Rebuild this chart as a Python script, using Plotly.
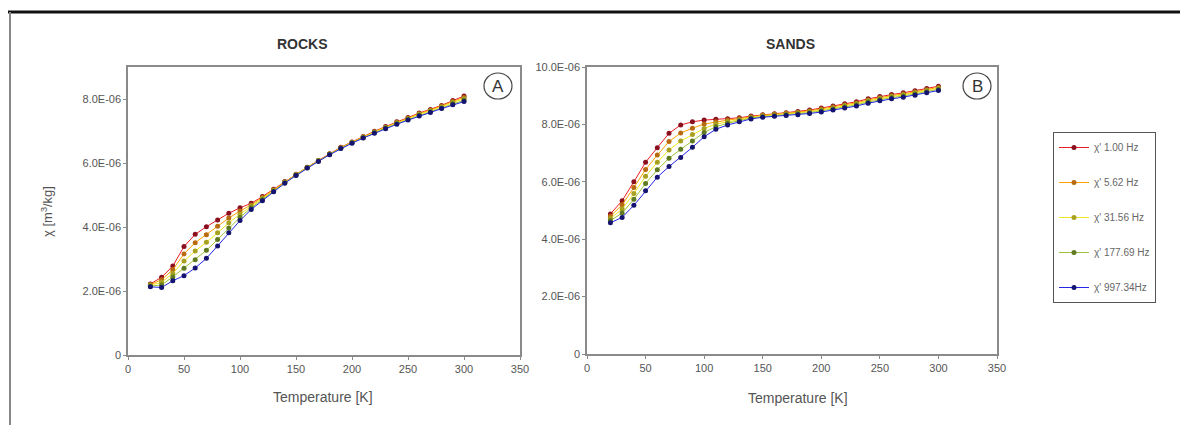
import plotly.graph_objects as go

W, H = 1180, 425

temperature = [20, 30, 40, 50, 60, 70, 80, 90, 100, 110, 120, 130, 140, 150, 160,
               170, 180, 190, 200, 210, 220, 230, 240, 250, 260, 270, 280, 290, 300]

series_names = ["χ' 1.00 Hz", "χ' 5.62 Hz", "χ' 31.56 Hz", "χ' 177.69 Hz", "χ' 997.34Hz"]

# values in units of 1E-06 m^3/kg
rocks_1hz = [2.22, 2.43, 2.78, 3.39, 3.77, 4.01, 4.22, 4.43, 4.60, 4.74, 4.95, 5.18, 5.42, 5.65, 5.87,
             6.08, 6.29, 6.49, 6.66, 6.83, 6.99, 7.14, 7.29, 7.42, 7.56, 7.67, 7.80, 7.95, 8.09]
rocks_5hz = [2.20, 2.35, 2.67, 3.16, 3.51, 3.76, 4.02, 4.28, 4.50, 4.69, 4.92, 5.16, 5.41, 5.64, 5.86,
             6.07, 6.28, 6.48, 6.65, 6.82, 6.98, 7.12, 7.27, 7.40, 7.54, 7.65, 7.78, 7.92, 8.05]
rocks_31hz = [2.18, 2.27, 2.55, 2.94, 3.25, 3.52, 3.82, 4.13, 4.40, 4.65, 4.89, 5.14, 5.40, 5.63, 5.86,
              6.07, 6.28, 6.47, 6.64, 6.81, 6.96, 7.11, 7.25, 7.38, 7.52, 7.63, 7.75, 7.89, 8.01]
rocks_177hz = [2.15, 2.19, 2.44, 2.71, 2.98, 3.27, 3.61, 3.97, 4.30, 4.60, 4.85, 5.12, 5.38, 5.62, 5.85,
               6.06, 6.27, 6.46, 6.63, 6.79, 6.95, 7.09, 7.23, 7.36, 7.49, 7.60, 7.72, 7.85, 7.96]
rocks_997hz = [2.13, 2.11, 2.32, 2.48, 2.72, 3.02, 3.41, 3.82, 4.20, 4.55, 4.82, 5.10, 5.37, 5.61, 5.84,
               6.05, 6.26, 6.45, 6.62, 6.78, 6.93, 7.07, 7.21, 7.34, 7.47, 7.58, 7.70, 7.82, 7.92]

sands_1hz = [4.88, 5.34, 6.00, 6.68, 7.19, 7.69, 7.98, 8.09, 8.15, 8.18, 8.20, 8.23, 8.29, 8.34, 8.37,
             8.41, 8.45, 8.50, 8.57, 8.64, 8.72, 8.79, 8.89, 8.97, 9.04, 9.10, 9.17, 9.25, 9.33]
sands_5hz = [4.80, 5.20, 5.80, 6.43, 6.93, 7.40, 7.70, 7.87, 8.01, 8.09, 8.15, 8.20, 8.27, 8.32, 8.35,
             8.39, 8.42, 8.47, 8.54, 8.61, 8.68, 8.75, 8.85, 8.93, 9.00, 9.06, 9.13, 9.21, 9.29]
sands_31hz = [4.72, 5.05, 5.59, 6.19, 6.68, 7.11, 7.42, 7.65, 7.86, 8.01, 8.09, 8.16, 8.24, 8.30, 8.33,
              8.36, 8.40, 8.44, 8.50, 8.57, 8.65, 8.72, 8.82, 8.90, 8.97, 9.03, 9.10, 9.18, 9.26]
sands_177hz = [4.65, 4.91, 5.39, 5.94, 6.42, 6.82, 7.13, 7.42, 7.72, 7.92, 8.04, 8.13, 8.22, 8.27, 8.30,
               8.34, 8.37, 8.41, 8.47, 8.54, 8.61, 8.68, 8.78, 8.86, 8.93, 8.99, 9.06, 9.14, 9.22]
sands_997hz = [4.57, 4.76, 5.18, 5.69, 6.16, 6.53, 6.85, 7.20, 7.57, 7.83, 7.98, 8.09, 8.19, 8.25, 8.28,
               8.31, 8.34, 8.38, 8.43, 8.50, 8.57, 8.64, 8.74, 8.82, 8.89, 8.95, 9.02, 9.10, 9.18]

UNIT = 1e-6

x_ticks = [0, 50, 100, 150, 200, 250, 300, 350]
rocks_yticks = [0, 2e-6, 4e-6, 6e-6, 8e-6]
rocks_yticktext = ["0", "2.0E-06", "4.0E-06", "6.0E-06", "8.0E-06"]
sands_yticks = [0, 2e-6, 4e-6, 6e-6, 8e-6, 10e-6]
sands_yticktext = ["0", "2.0E-06", "4.0E-06", "6.0E-06", "8.0E-06", "10.0E-06"]

line_colors = ["#ec1c24", "#ffa200", "#f0e81e", "#9cc23c", "#2626e6"]
marker_colors = ["#8a1020", "#b86a10", "#a8a020", "#5f7a20", "#141470"]

rocks = [rocks_1hz, rocks_5hz, rocks_31hz, rocks_177hz, rocks_997hz]
sands = [sands_1hz, sands_5hz, sands_31hz, sands_177hz, sands_997hz]

fig = go.Figure()

def px_x(p):
    return p / W

def px_y(p):
    return 1 - p / H

for i in range(5):
    fig.add_trace(go.Scatter(
        x=temperature, y=[v * UNIT for v in rocks[i]], name=series_names[i],
        mode="lines+markers", legendgroup=str(i), showlegend=True,
        line=dict(color=line_colors[i], width=1),
        marker=dict(color=marker_colors[i], size=5, symbol="circle"),
        xaxis="x", yaxis="y"))
for i in range(5):
    fig.add_trace(go.Scatter(
        x=temperature, y=[v * UNIT for v in sands[i]], name=series_names[i],
        mode="lines+markers", legendgroup=str(i), showlegend=False,
        line=dict(color=line_colors[i], width=1),
        marker=dict(color=marker_colors[i], size=5, symbol="circle"),
        xaxis="x2", yaxis="y2"))

axis_common = dict(showline=True, linecolor="#8a8a8a", linewidth=1.5, mirror=True,
                   showgrid=False, zeroline=False, ticks="outside", ticklen=3,
                   tickcolor="#8a8a8a", automargin=False,
                   tickfont=dict(size=11, color="#555555", family="Liberation Sans"))

fig.update_layout(
    template="none",
    width=W, height=H,
    margin=dict(l=0, r=0, t=0, b=0),
    paper_bgcolor="white", plot_bgcolor="white",
    font=dict(family="Liberation Sans", color="#444444"),
    xaxis=dict(domain=[px_x(128), px_x(520)], range=[0, 350], tickvals=x_ticks,
               anchor="y", **axis_common),
    yaxis=dict(domain=[px_y(355), px_y(67)], range=[0, 9e-6], tickvals=rocks_yticks,
               ticktext=rocks_yticktext, anchor="x", **axis_common),
    xaxis2=dict(domain=[px_x(587), px_x(997)], range=[0, 350], tickvals=x_ticks,
                anchor="y2", **axis_common),
    yaxis2=dict(domain=[px_y(354), px_y(67)], range=[0, 10e-6], tickvals=sands_yticks,
                ticktext=sands_yticktext, anchor="x2", **axis_common),
    legend=dict(x=px_x(1053), y=px_y(132), xanchor="left", yanchor="top",
                bordercolor="#555555", borderwidth=1, bgcolor="white",
                font=dict(size=10, color="#666666"), tracegroupgap=16,
                traceorder="grouped", itemwidth=30),
    showlegend=True,
)

def ann(text, x, y, size, color="#333333", angle=0):
    return dict(text=text, x=px_x(x), y=px_y(y), xref="paper", yref="paper",
                xanchor="center", yanchor="middle", showarrow=False, textangle=angle,
                font=dict(size=size, color=color))

annotations = [
    ann("<b>ROCKS</b>", 302, 44, 14),
    ann("<b>SANDS</b>", 790, 44, 14),
    ann("A", 498, 86, 17),
    ann("B", 977, 86, 17),
    ann("Temperature [K]", 323, 397, 14, "#555555"),
    ann("Temperature [K]", 798, 398, 14, "#555555"),
    ann("χ [m<sup>3</sup>/kg]", 47, 211, 13, "#555555", -90),
]
fig.update_layout(annotations=annotations)

shapes = [
    dict(type="circle", xref="paper", yref="paper", x0=px_x(484), x1=px_x(512),
         y0=px_y(99), y1=px_y(73), line=dict(color="#444444", width=1.2)),
    dict(type="circle", xref="paper", yref="paper", x0=px_x(963), x1=px_x(991),
         y0=px_y(99), y1=px_y(73), line=dict(color="#444444", width=1.2)),
    # outer frame: thick top line, left line
    dict(type="line", xref="paper", yref="paper", x0=px_x(8), x1=1, y0=px_y(12), y1=px_y(12),
         line=dict(color="#111111", width=3)),
    dict(type="line", xref="paper", yref="paper", x0=px_x(10), x1=px_x(10), y0=px_y(12), y1=0,
         line=dict(color="#888888", width=2)),
]
fig.update_layout(shapes=shapes)

fig.write_html("out.html", config={"displayModeBar": False},
               post_script="document.body.style.margin='0px';document.body.style.padding='0px';")
